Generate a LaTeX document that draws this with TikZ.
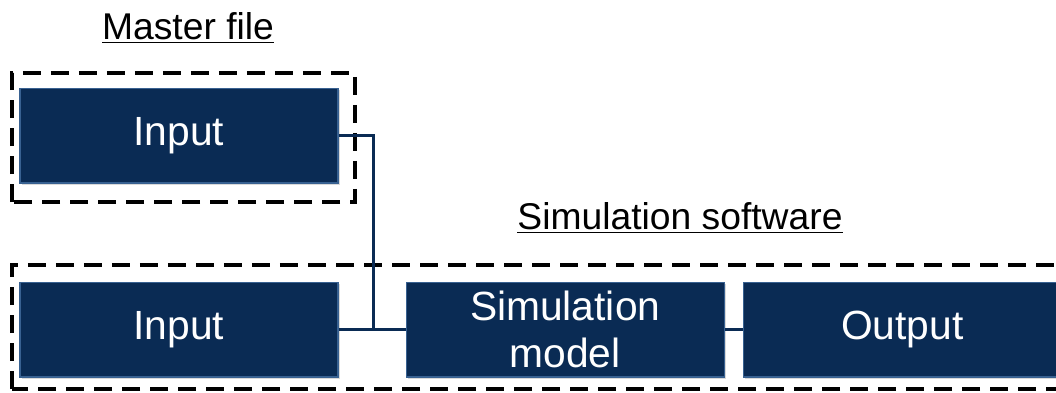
\documentclass[tikz,border=0pt]{standalone}
\usepackage{fontspec}
\setmainfont{Liberation Sans}
\definecolor{d00}{rgb}{0.00, 0.00, 0.00}
\definecolor{d01}{rgb}{0.04, 0.17, 0.33}
\definecolor{d02}{rgb}{0.22, 0.38, 0.57}
\definecolor{d05}{rgb}{1.00, 1.00, 1.00}
\usetikzlibrary{positioning}
\usetikzlibrary{shadows}
\tikzstyle{Line} = [draw, d01, line width=.075cm]
\tikzstyle{frame} = [draw, d00, line width=.085cm,
    dash pattern=on .45cm off .25cm]
\tikzstyle{blok} = [draw=d02, fill=d01, rectangle, text=d05,
    minimum width=7.95cm, minimum height=2.37cm, text centered,
    align=center, line width=.03cm, font=\fontsize{29}{33}\selectfont,
    drop shadow={shadow xshift=.05cm, shadow yshift=-.05cm, opacity=.3}]
\tikzstyle{tag} = [text=d00, inner sep=0pt,
    font=\fontsize{26.5}{30}\selectfont]

\begin{document}
\begin{tikzpicture}[auto, node distance=1.675cm]
     \useasboundingbox (0,0) rectangle (26.4,9.8);
     % ><>< =================== ><>< %
     % ><><     Place nodes     ><>< %
     % ><>< =================== ><>< %
     \node [blok] (inMaster) at (4.475,6.41) {Input};
     \node [blok] (inSim) at (4.475,1.56) {Input};
     \node [blok, right=of inSim] (model) {Simulation\\model};
     \node [blok, right=0.45cm of model] (output) {Output};
     \node [tag] (master) at (4.7,9.1) {\underline{Master file}};
     \node [tag] (simsoft) at (17.0,4.35) {\underline{Simulation software}};
     \coordinate (knee) at (9.325,1.56);
     % ><>< =================== ><>< %
     % ><><     Draw frames     ><>< %
     % ><>< =================== ><>< %
     \draw [frame] (0.3,4.75) rectangle (8.875,7.975);
     \draw [frame] (0.3,0.075) rectangle (26.8,3.175);
     % ><>< =================== ><>< %
     % ><><     Draw lines.     ><>< %
     % ><>< =================== ><>< %
     \path [Line] (inMaster.east) -| (knee);
     \path [Line] (inSim) -- (model);
     \path [Line] (model) -- (output);
\end{tikzpicture}
\end{document}
